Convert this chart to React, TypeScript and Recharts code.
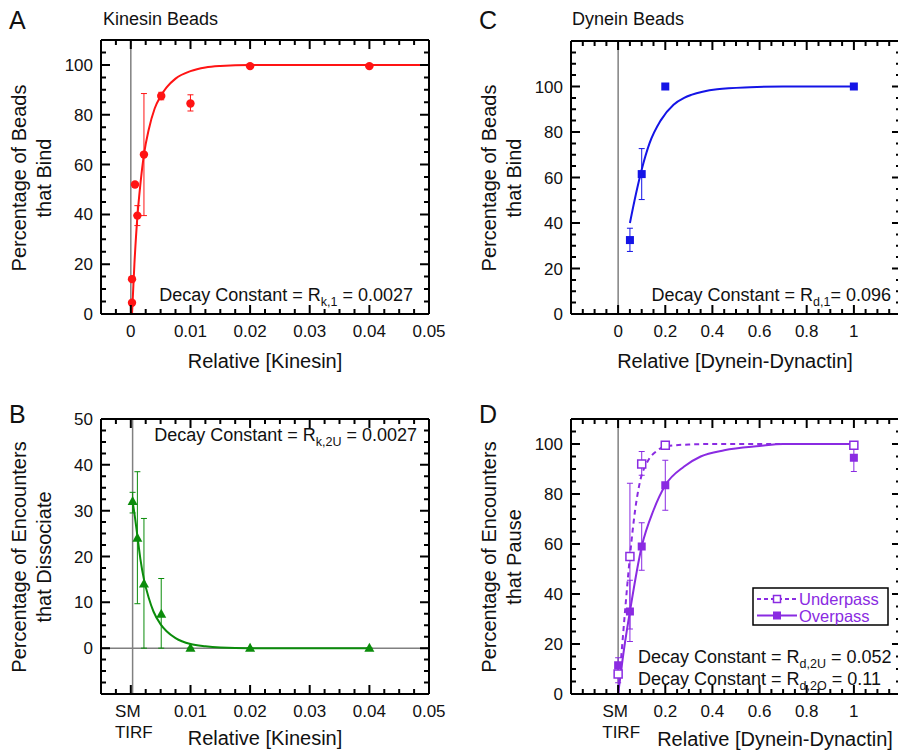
import React from 'react';
import { ComposedChart, Scatter, Line, XAxis, YAxis, ErrorBar, ReferenceLine } from 'recharts';

const FONT = '"Liberation Sans", Arial, Helvetica, sans-serif';
const RED = '#ff1414';
const BLUE = '#1414e6';
const GREEN = '#0b8c0b';
const PURPLE = '#8a2be2';
const REF_GRAY = '#808080';

// ---- A: kinesin beads, % that bind
const kinesinBindPts = [
  { x: 0.0002, y: 4.5, lo: 4.5, hi: 4.5 },
  { x: 0.0002, y: 14, lo: 13, hi: 15 },
  { x: 0.0007, y: 52, lo: 52, hi: 52 },
  { x: 0.0011, y: 39.5, lo: 35.5, hi: 43.5 },
  { x: 0.0022, y: 64, lo: 39.5, hi: 88.5 },
  { x: 0.0051, y: 87.5, lo: 86, hi: 89 },
  { x: 0.01, y: 84.5, lo: 81.5, hi: 88 },
  { x: 0.02, y: 99.5, lo: 99.5, hi: 99.5 },
  { x: 0.04, y: 99.5, lo: 99.5, hi: 99.5 },
];
const kinesinBindFit = [
  { x: 0.0002, y: 0 }, { x: 0.0006, y: 20 }, { x: 0.0011, y: 39 }, { x: 0.0016, y: 52 },
  { x: 0.0022, y: 64 }, { x: 0.003, y: 74 }, { x: 0.004, y: 82.5 }, { x: 0.005, y: 87.5 },
  { x: 0.006, y: 91 }, { x: 0.0075, y: 94.5 }, { x: 0.01, y: 97.5 }, { x: 0.0125, y: 99 },
  { x: 0.015, y: 99.6 }, { x: 0.02, y: 100 }, { x: 0.05, y: 100 },
];

// ---- B: kinesin encounters, % that dissociate
const kinesinDissocPts = [
  { x: 0.0003, y: 32, lo: 29.5, hi: 34 },
  { x: 0.0011, y: 24, lo: 9.7, hi: 38.5 },
  { x: 0.0022, y: 14, lo: 0, hi: 28.3 },
  { x: 0.0051, y: 7.4, lo: 0, hi: 15.2 },
  { x: 0.01, y: 0, lo: 0, hi: 0 },
  { x: 0.02, y: 0, lo: 0, hi: 0 },
  { x: 0.04, y: 0, lo: 0, hi: 0 },
];
const kinesinDissocFit = [
  { x: 0.0003, y: 32 }, { x: 0.0007, y: 28.5 }, { x: 0.0011, y: 24.5 }, { x: 0.0016, y: 19.5 },
  { x: 0.0022, y: 15 }, { x: 0.003, y: 11 }, { x: 0.0038, y: 8 }, { x: 0.005, y: 5.2 },
  { x: 0.006, y: 3.7 }, { x: 0.0075, y: 2.2 }, { x: 0.01, y: 0.9 }, { x: 0.0125, y: 0.4 },
  { x: 0.015, y: 0.15 }, { x: 0.02, y: 0 }, { x: 0.04, y: 0 },
];

// ---- C: dynein beads, % that bind
const dyneinBindPts = [
  { x: 0.05, y: 32.5, lo: 27.5, hi: 37.7 },
  { x: 0.1, y: 61.5, lo: 50.3, hi: 72.7 },
  { x: 0.2, y: 100, lo: 100, hi: 100 },
  { x: 1, y: 100, lo: 100, hi: 100 },
];
const dyneinBindFit = [
  { x: 0.05, y: 40 }, { x: 0.075, y: 52.5 }, { x: 0.1, y: 63.5 }, { x: 0.133, y: 75 },
  { x: 0.18, y: 85 }, { x: 0.235, y: 92 }, { x: 0.28, y: 95 }, { x: 0.31, y: 96.3 },
  { x: 0.42, y: 98.8 }, { x: 0.56, y: 99.7 }, { x: 0.7, y: 100 }, { x: 1, y: 100 },
];

// ---- D: dynein encounters, % that pause
const underpassPts = [
  { x: 0, y: 8, lo: 4.5, hi: 11.5 },
  { x: 0.05, y: 55, lo: 26, hi: 84.3 },
  { x: 0.1, y: 92, lo: 87.5, hi: 97 },
  { x: 0.2, y: 99.5, lo: 99.5, hi: 99.5 },
  { x: 1, y: 99.5, lo: 99.5, hi: 99.5 },
];
const overpassPts = [
  { x: 0, y: 11.5, lo: 9, hi: 14.5 },
  { x: 0.05, y: 33, lo: 21, hi: 45.5 },
  { x: 0.1, y: 59, lo: 49.5, hi: 68.5 },
  { x: 0.2, y: 83.5, lo: 73.5, hi: 93.5 },
  { x: 1, y: 94.5, lo: 89, hi: 98.5 },
];
const underpassFit = [
  { x: 0, y: 0 }, { x: 0.015, y: 17 }, { x: 0.03, y: 34 }, { x: 0.05, y: 55 },
  { x: 0.072, y: 73.5 }, { x: 0.094, y: 85.5 }, { x: 0.122, y: 92.5 }, { x: 0.165, y: 97.3 },
  { x: 0.2, y: 99 }, { x: 0.3, y: 99.8 }, { x: 0.4, y: 100 }, { x: 1, y: 100 },
];
const overpassFit = [
  { x: 0, y: 0 }, { x: 0.025, y: 18 }, { x: 0.05, y: 33 }, { x: 0.1, y: 59 },
  { x: 0.15, y: 73.5 }, { x: 0.2, y: 83.5 }, { x: 0.28, y: 91 }, { x: 0.35, y: 95 },
  { x: 0.45, y: 97.5 }, { x: 0.6, y: 99.2 }, { x: 0.7, y: 100 }, { x: 1, y: 100 },
];

// ---- axis ticks
const kinesinXTicks = [0, 0.01, 0.02, 0.03, 0.04, 0.05];
const kinesinXLabelsA = ['0', '0.01', '0.02', '0.03', '0.04', '0.05'];
const kinesinXLabelsB = ['SM\nTIRF', '0.01', '0.02', '0.03', '0.04', '0.05'];
const dyneinXTicks = [0, 0.2, 0.4, 0.6, 0.8, 1];
const dyneinXLabelsC = ['0', '0.2', '0.4', '0.6', '0.8', '1'];
const dyneinXLabelsD = ['SM\nTIRF', '0.2', '0.4', '0.6', '0.8', '1'];
const pctTicks = [0, 20, 40, 60, 80, 100];
const pctLabels = ['0', '20', '40', '60', '80', '100'];
const dissocTicks = [0, 10, 20, 30, 40, 50];
const dissocLabels = ['0', '10', '20', '30', '40', '50'];

const withErr = (pts: { x: number; y: number; lo: number; hi: number }[]) =>
  pts.map(p => ({ ...p, err: [p.y - p.lo, p.hi - p.y] }));

const range = (a: number, b: number, step: number) => {
  const out: number[] = [];
  const n = Math.round((b - a) / step);
  for (let i = 0; i <= n; i++) out.push(+(a + i * step).toFixed(6));
  return out;
};

const isMajor = (v: number, majors: number[]) => majors.some(m => Math.abs(m - v) < 1e-7);

const MINOR = 5;
const MAJOR = 9;
const AXIS_W = { left: 40, right: 10, top: 10, bottom: 30 };

// label-only ticks; the small inward marks are drawn by FrameTicks
const makeLabel = (side: 'bottom' | 'left', majors: number[], labels: string[]) => (props: any) => {
  const { x, y, payload } = props;
  const idx = majors.findIndex(m => Math.abs(m - payload.value) < 1e-7);
  if (idx < 0) return <g />;
  const txt = labels[idx];
  let label;
  if (side === 'bottom') {
    const parts = txt.split('\n');
    label = parts.length > 1 ? (
      <g>
        <text x={x - 3} y={y + 23} textAnchor="middle">{parts[0]}</text>
        <text x={x + 3} y={y + 44} textAnchor="middle">{parts[1]}</text>
      </g>
    ) : (
      <text x={x} y={y + 23} textAnchor="middle">{txt}</text>
    );
  } else {
    label = <text x={x - 8} y={y + 6} textAnchor="end">{txt}</text>;
  }
  return <g fill="#111" stroke="none" fontSize={17} fontFamily={FONT}>{label}</g>;
};

type Frame = {
  left: number; top: number; width: number; height: number;
  margin: { top: number; right: number; bottom: number; left: number };
  xDomain: [number, number]; xStep: number; xMajor: number[]; xLabels: string[];
  yDomain: [number, number]; yStep: number; yMajor: number[]; yLabels: string[];
};

// plot box of a frame in page pixels, and a linear map of its domain onto it
const plotBox = (f: Frame) => {
  const x = f.left + f.margin.left + AXIS_W.left;
  const y = f.top + f.margin.top + AXIS_W.top;
  const w = f.width - f.margin.left - f.margin.right - AXIS_W.left - AXIS_W.right;
  const h = f.height - f.margin.top - f.margin.bottom - AXIS_W.top - AXIS_W.bottom;
  return {
    x, y, w, h,
    sx: (v: number) => x + ((v - f.xDomain[0]) / (f.xDomain[1] - f.xDomain[0])) * w,
    sy: (v: number) => y + h - ((v - f.yDomain[0]) / (f.yDomain[1] - f.yDomain[0])) * h,
  };
};

function FrameTicks({ f }: { f: Frame }) {
  const b = plotBox(f);
  const xs = range(f.xDomain[0], f.xDomain[1], f.xStep).slice(1, -1);
  const ys = range(f.yDomain[0], f.yDomain[1], f.yStep).slice(1, -1);
  let d = '';
  xs.forEach(v => {
    const len = isMajor(v, f.xMajor) ? MAJOR : MINOR;
    const px = b.sx(v).toFixed(1);
    d += `M${px},${b.y + b.h}V${b.y + b.h - len}M${px},${b.y}V${b.y + len}`;
  });
  ys.forEach(v => {
    const len = isMajor(v, f.yMajor) ? MAJOR : MINOR;
    const py = b.sy(v).toFixed(1);
    d += `M${b.x},${py}H${b.x + len}M${b.x + b.w},${py}H${b.x + b.w - len}`;
  });
  return <path d={d} fill="none" stroke="#000" strokeWidth={2} />;
}

const AXIS_LINE = { stroke: '#000', strokeWidth: 2 };

function Panel({ f, bind, children }: { f: Frame; bind: { x: number; y: number }[]; children: React.ReactNode }) {
  const xt = range(f.xDomain[0], f.xDomain[1], f.xStep);
  const yt = range(f.yDomain[0], f.yDomain[1], f.yStep);
  const common = {
    type: 'number' as const, allowDataOverflow: true, interval: 0 as const,
    tickSize: 0, tickMargin: 0, tickLine: false, axisLine: AXIS_LINE,
  };
  return (
    <div style={{ position: 'absolute', left: f.left, top: f.top }}>
      <ComposedChart width={f.width} height={f.height} margin={f.margin}>
        <XAxis xAxisId="b" dataKey="x" domain={f.xDomain} ticks={xt} height={AXIS_W.bottom} tick={makeLabel('bottom', f.xMajor, f.xLabels)} {...common} />
        <XAxis xAxisId="t" dataKey="x" orientation="top" domain={f.xDomain} ticks={xt} height={AXIS_W.top} tick={false} {...common} />
        <YAxis yAxisId="l" dataKey="y" domain={f.yDomain} ticks={yt} width={AXIS_W.left} tick={makeLabel('left', f.yMajor, f.yLabels)} {...common} />
        <YAxis yAxisId="r" dataKey="y" orientation="right" domain={f.yDomain} ticks={yt} width={AXIS_W.right} tick={false} {...common} />
        <Scatter xAxisId="t" yAxisId="r" data={bind} shape={() => <g />} isAnimationActive={false} />
        {children}
      </ComposedChart>
    </div>
  );
}

const circle = (c: string) => (p: any) => <circle cx={p.cx} cy={p.cy} r={4.2} fill={c} />;
const square = (c: string, hollow = false) => (p: any) => (
  <rect x={p.cx - 4} y={p.cy - 4} width={8} height={8} fill={hollow ? '#fff' : c} stroke={c} strokeWidth={hollow ? 1.5 : 0} />
);
const triangle = (c: string) => (p: any) => (
  <polygon points={`${p.cx},${p.cy - 5.5} ${p.cx - 5},${p.cy + 3.5} ${p.cx + 5},${p.cy + 3.5}`} fill={c} />
);

const frameA: Frame = {
  left: 0, top: 0, width: 450, height: 380,
  margin: { top: 30, right: 11, bottom: 36, left: 61 },
  xDomain: [-0.005, 0.05], xStep: 0.0025, xMajor: kinesinXTicks, xLabels: kinesinXLabelsA,
  yDomain: [0, 110], yStep: 5, yMajor: pctTicks, yLabels: pctLabels,
};
const frameB: Frame = {
  left: 0, top: 380, width: 450, height: 370,
  margin: { top: 29, right: 11, bottom: 26, left: 61 },
  xDomain: [-0.005, 0.05], xStep: 0.0025, xMajor: kinesinXTicks, xLabels: kinesinXLabelsB,
  yDomain: [-10, 50], yStep: 2.5, yMajor: dissocTicks, yLabels: dissocLabels,
};
const frameC: Frame = {
  left: 450, top: 0, width: 462, height: 380,
  margin: { top: 31, right: 1, bottom: 36, left: 81 },
  xDomain: [-0.2, 1.2], xStep: 0.05, xMajor: dyneinXTicks, xLabels: dyneinXLabelsC,
  yDomain: [0, 120], yStep: 5, yMajor: pctTicks, yLabels: pctLabels,
};
const frameD: Frame = {
  left: 450, top: 380, width: 462, height: 370,
  margin: { top: 29, right: 1, bottom: 26, left: 81 },
  xDomain: [-0.2, 1.2], xStep: 0.05, xMajor: dyneinXTicks, xLabels: dyneinXLabelsD,
  yDomain: [0, 110], yStep: 5, yMajor: pctTicks, yLabels: pctLabels,
};

const ax = { xAxisId: 'b', yAxisId: 'l' };

const YLabel = ({ x, y, children }: { x: number; y: number; children: React.ReactNode }) => (
  <text transform={`translate(${x},${y}) rotate(-90)`} textAnchor="middle" dy="0.35em" fontSize={20}>{children}</text>
);

const Decay = ({ x, y, anchor, sub, tail }: { x: number; y: number; anchor: 'start' | 'end'; sub: string; tail: string }) => (
  <text x={x} y={y} textAnchor={anchor} fontSize={18}>
    Decay Constant = R<tspan dy={5} fontSize={12.5}>{sub}</tspan><tspan dy={-5}>{tail}</tspan>
  </text>
);

export default function App() {
  return (
    <div style={{ position: 'absolute', left: 0, top: 0, width: 898, height: 750, overflow: 'hidden', background: '#fff', fontFamily: FONT }}>
      <Panel f={frameA} bind={kinesinBindFit}>
        <ReferenceLine {...ax} x={0} stroke={REF_GRAY} strokeWidth={1.5} />
        <Line {...ax} data={kinesinBindFit} dataKey="y" type="monotone" dot={false} activeDot={false} stroke={RED} strokeWidth={2} isAnimationActive={false} />
        <Scatter {...ax} data={withErr(kinesinBindPts)} dataKey="y" shape={circle(RED)} isAnimationActive={false}>
          <ErrorBar dataKey="err" direction="y" width={3} stroke={RED} strokeWidth={1} />
        </Scatter>
      </Panel>

      <Panel f={frameB} bind={kinesinDissocFit}>
        <ReferenceLine {...ax} x={0.0003} stroke={REF_GRAY} strokeWidth={1.5} />
        <ReferenceLine {...ax} y={0} stroke={REF_GRAY} strokeWidth={1.5} />
        <Line {...ax} data={kinesinDissocFit} dataKey="y" type="monotone" dot={false} activeDot={false} stroke={GREEN} strokeWidth={2} isAnimationActive={false} />
        <Scatter {...ax} data={withErr(kinesinDissocPts)} dataKey="y" shape={triangle(GREEN)} isAnimationActive={false}>
          <ErrorBar dataKey="err" direction="y" width={3} stroke={GREEN} strokeWidth={1} />
        </Scatter>
      </Panel>

      <Panel f={frameC} bind={dyneinBindFit}>
        <ReferenceLine {...ax} x={0} stroke={REF_GRAY} strokeWidth={1.5} />
        <Line {...ax} data={dyneinBindFit} dataKey="y" type="monotone" dot={false} activeDot={false} stroke={BLUE} strokeWidth={2} isAnimationActive={false} />
        <Scatter {...ax} data={withErr(dyneinBindPts)} dataKey="y" shape={square(BLUE)} isAnimationActive={false}>
          <ErrorBar dataKey="err" direction="y" width={3} stroke={BLUE} strokeWidth={1} />
        </Scatter>
      </Panel>

      <Panel f={frameD} bind={overpassFit}>
        <ReferenceLine {...ax} x={0} stroke={REF_GRAY} strokeWidth={1.5} />
        <Line {...ax} data={underpassFit} dataKey="y" type="monotone" dot={false} activeDot={false} stroke={PURPLE} strokeWidth={2} strokeDasharray="5 4" isAnimationActive={false} />
        <Line {...ax} data={overpassFit} dataKey="y" type="monotone" dot={false} activeDot={false} stroke={PURPLE} strokeWidth={2} isAnimationActive={false} />
        <Scatter {...ax} data={withErr(underpassPts)} dataKey="y" shape={square(PURPLE, true)} isAnimationActive={false}>
          <ErrorBar dataKey="err" direction="y" width={3} stroke={PURPLE} strokeWidth={1} />
        </Scatter>
        <Scatter {...ax} data={withErr(overpassPts)} dataKey="y" shape={square(PURPLE)} isAnimationActive={false}>
          <ErrorBar dataKey="err" direction="y" width={3} stroke={PURPLE} strokeWidth={1} />
        </Scatter>
      </Panel>

      <svg width={898} height={750} style={{ position: 'absolute', left: 0, top: 0, pointerEvents: 'none' }} fontFamily={FONT} fill="#111">
        <FrameTicks f={frameA} />
        <FrameTicks f={frameB} />
        <FrameTicks f={frameC} />
        <FrameTicks f={frameD} />

        {/* panel A */}
        <text x={9} y={29} fontSize={25}>A</text>
        <text x={103} y={25} fontSize={18}>Kinesin Beads</text>
        <YLabel x={19} y={178}>Percentage of Beads</YLabel>
        <YLabel x={44} y={178}>that Bind</YLabel>
        <text x={265} y={368} fontSize={20} textAnchor="middle">Relative [Kinesin]</text>
        <Decay x={413} y={301} anchor="end" sub="k,1" tail=" = 0.0027" />

        {/* panel C */}
        <text x={479} y={29} fontSize={25}>C</text>
        <text x={572} y={25} fontSize={18}>Dynein Beads</text>
        <YLabel x={488.5} y={178}>Percentage of Beads</YLabel>
        <YLabel x={513.5} y={178}>that Bind</YLabel>
        <text x={735} y={368} fontSize={20} textAnchor="middle">Relative [Dynein-Dynactin]</text>
        <Decay x={891} y={301} anchor="end" sub="d,1" tail="= 0.096" />

        {/* panel B */}
        <text x={9} y={423} fontSize={25}>B</text>
        <YLabel x={18.5} y={557}>Percentage of Encounters</YLabel>
        <YLabel x={43.5} y={557}>that Dissociate</YLabel>
        <text x={265} y={745} fontSize={20} textAnchor="middle">Relative [Kinesin]</text>
        <Decay x={417} y={441} anchor="end" sub="k,2U" tail=" = 0.0027" />

        {/* panel D */}
        <text x={479} y={423} fontSize={25}>D</text>
        <YLabel x={488.5} y={557}>Percentage of Encounters</YLabel>
        <YLabel x={513.5} y={557}>that Pause</YLabel>
        <text x={775} y={746} fontSize={20} textAnchor="middle">Relative [Dynein-Dynactin]</text>
        <Decay x={638} y={663} anchor="start" sub="d,2U" tail=" = 0.052" />
        <Decay x={638} y={685} anchor="start" sub="d,2O" tail=" = 0.11" />

        {/* panel D legend */}
        <rect x={753} y={588} width={135} height={37} fill="#fff" stroke="#000" strokeWidth={1.5} />
        <line x1={757} y1={599} x2={797} y2={599} stroke={PURPLE} strokeWidth={2} strokeDasharray="4 3" />
        <rect x={773.5} y={595.5} width={7} height={7} fill="#fff" stroke={PURPLE} strokeWidth={1.5} />
        <text x={799} y={605} fontSize={16.5} fill={PURPLE}>Underpass</text>
        <line x1={757} y1={615.5} x2={797} y2={615.5} stroke={PURPLE} strokeWidth={2} />
        <rect x={773} y={611.5} width={8} height={8} fill={PURPLE} />
        <text x={799} y={621.5} fontSize={16.5} fill={PURPLE}>Overpass</text>
      </svg>
    </div>
  );
}
